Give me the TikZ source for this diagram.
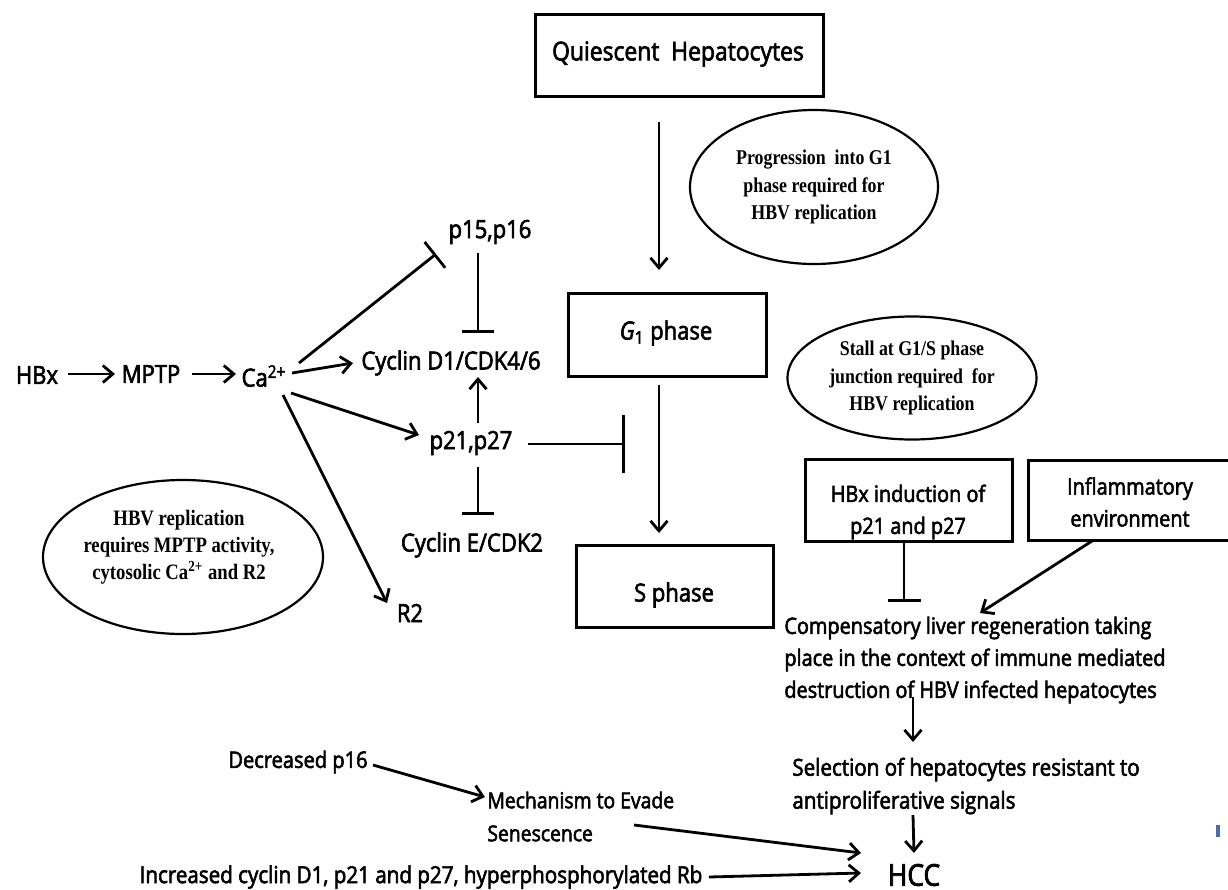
\documentclass[tikz,border=0pt]{standalone}
\usepackage{fontspec}
\setmainfont{Open Sans}[FakeStretch=0.88,FakeBold=2.5]
\newfontfamily\ellfont{Liberation Serif}[FakeStretch=0.85]
\usetikzlibrary{arrows.meta,shapes.geometric}
\definecolor{markblue}{RGB}{70,110,175}
\tikzset{
 lbl/.style={inner sep=0pt, font=\fontsize{12.5}{16}\selectfont, align=left},
 small/.style={font=\fontsize{11.3}{16}\selectfont},
 boxnode/.style={draw, line width=1.5pt, inner sep=0pt},
 ellnode/.style={draw, ellipse, line width=1.1pt, inner sep=0pt, align=center, font=\ellfont\bfseries\fontsize{10.5}{13.8}\selectfont},
 elltext/.style={inner sep=0pt, align=center, font=\ellfont\bfseries\fontsize{11}{13.4}\selectfont},
 arr/.style={line width=1.4pt, -{Straight Barb[length=5pt,width=8.5pt,line width=1.4pt]}},
 inh/.style={line width=1.4pt, -{Bar[width=#1,line width=1.4pt]}},
}
\begin{document}
\begin{tikzpicture}[x=0.5pt,y=-0.5pt]
\useasboundingbox (0,0) rectangle (1228,890);
\clip (0,0) rectangle (1228,890);
% left cascade
\node[lbl] (hbx) at (37,375) {HBx};
\node[lbl] (mptp) at (151,374) {MPTP};
\node[lbl] (ca) at (264,376) {Ca\textsuperscript{2+}};
\node[lbl] (p1516) at (490,232) {p15,p16};
\node[lbl] (cycd) at (451,363) {Cyclin D1/CDK4/6};
\node[lbl] (p2127) at (471,443) {p21,p27};
\node[lbl] (cyce) at (472,545) {Cyclin E/CDK2};
\node[lbl] (r2) at (410,613) {R2};
\node[ellnode, minimum width=140pt, minimum height=77pt] (ellL) at (183,557) {};
\node[elltext] (ellLt) at (179,547) {HBV replication\\requires MPTP activity,\\cytosolic Ca\textsuperscript{2+} and R2};
% cell cycle column
\node[boxnode, minimum width=144pt, minimum height=41pt] (quies) at (679,55) {};
\node[lbl, font=\fontsize{13}{16}\selectfont] (quiest) at (678,54) {Quiescent\ \ Hepatocytes};
\node[ellnode, minimum width=124pt, minimum height=77pt] (ell1) at (814,187) {Progression\ \ into G1\\phase required for\\HBV replication};
\node[boxnode, minimum width=99pt, minimum height=41.5pt] (g1) at (667,334.5) {};
\node[lbl] (g1t) at (666,333) {\itshape G\textsubscript{\upshape 1}\upshape\ phase};
\node[ellnode, minimum width=124.5pt, minimum height=61.5pt] (ell2) at (912,378) {Stall at G1/S phase\\junction required\ \ for\\HBV replication};
\node[boxnode, minimum width=98.5pt, minimum height=41pt] (s) at (674.5,586) {};
\node[lbl] (st) at (674,595) {S phase};
% right side
\node[boxnode, minimum width=103.5pt, minimum height=41pt] (hbxind) at (908.5,500) {};
\node[lbl, small, align=center] (hbxindt) at (908,512) {HBx induction of\\p21 and p27};
\node[boxnode, minimum width=110pt, minimum height=40pt, anchor=west] (infl) at (1027,500) {};
\node[lbl, small, align=center] (inflt) at (1130,502) {Inflammatory\\environment};
\node[lbl, small, anchor=west] (comp) at (784,660) {Compensatory liver regeneration taking\\place in the context of immune mediated\\destruction of HBV infected hepatocytes};
\node[lbl, font=\fontsize{11.7}{16.5}\selectfont, anchor=west] (sel) at (792,786) {Selection of hepatocytes resistant to\\antiproliferative signals};
\node[lbl, font=\fontsize{15}{18}\selectfont] (hcc) at (914,875) {HCC};
% bottom left
\node[lbl, font=\fontsize{11.4}{16}\selectfont] (decp16) at (298,762) {Decreased p16};
\node[lbl, font=\fontsize{11}{16.5}\selectfont, anchor=west] (mech) at (487,816.5) {Mechanism to Evade\\Senescence};
\node[lbl, font=\fontsize{11.7}{16}\selectfont] (incr) at (421,877) {Increased cyclin D1, p21 and p27, hyperphosphorylated Rb};
\node[fill=markblue, minimum width=2pt, minimum height=6pt, inner sep=0pt] (mark) at (1218,831) {};
% connectors
\draw[arr] ([shift={(31,-1)}]hbx.center) -- ([shift={(-36,0)}]mptp.center);
\draw[arr] ([shift={(41,0)}]mptp.center) -- ([shift={(-28,-2)}]ca.center);
\draw[arr] ([shift={(28,-3)}]ca.center) -- ([shift={(-98,0)}]cycd.center);
\draw[inh=16.5pt] ([shift={(35,-13)}]ca.center) -- ([shift={(-54,22)}]p1516.center);
\draw[inh=16pt] ([shift={(-12,21)}]p1516.center) -- ([shift={(27,-30)}]cycd.center);
\draw[arr] ([shift={(7,-20)}]p2127.center) -- ([shift={(27,14)}]cycd.center);
\draw[arr] ([shift={(27,17)}]ca.center) -- ([shift={(-52,-8)}]p2127.center);
\draw[inh=16pt] ([shift={(7,24)}]p2127.center) -- ([shift={(6,-30)}]cyce.center);
\draw[arr] ([shift={(19,19)}]ca.center) -- ([shift={(-23,-10)}]r2.center);
\coordinate (block) at (625,444);
\draw[inh=29pt] ([shift={(57,1)}]p2127.center) -- (block);
\draw[arr] ([shift={(-20,67)}]quies.center) -- ([shift={(-8,-64.5)}]g1.center);
\draw[arr] ([shift={(-8,50.5)}]g1.center) -- ([shift={(-15.5,-53)}]s.center);
\draw[inh=16.5pt] ([shift={(-4.5,41)}]hbxind.center) -- ([shift={(120,-58)}]comp.west);
\draw[arr] ([shift={(65,41)}]infl.west) -- ([shift={(196,-47)}]comp.west);
\draw[arr] ([shift={(129,37)}]comp.west) -- ([shift={(121,-44)}]sel.west);
\draw[arr] ([shift={(121,29)}]sel.west) -- ([shift={(0,-22)}]hcc.center);
\draw[arr] ([shift={(75,3)}]decp16.center) -- ([shift={(-2,-19.5)}]mech.west);
\draw[arr] ([shift={(147,8.5)}]mech.west) -- ([shift={(-53,-22)}]hcc.center);
\draw[arr] ([shift={(288,0)}]incr.center) -- ([shift={(-53,-2)}]hcc.center);
\end{tikzpicture}
\end{document}
